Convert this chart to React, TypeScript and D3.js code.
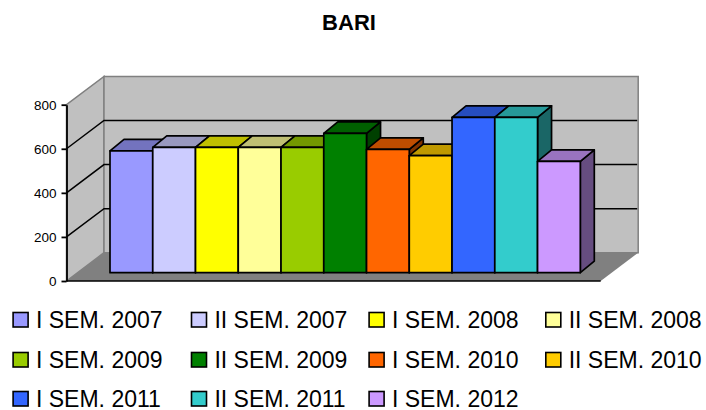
import React, { useEffect, useRef } from 'react';
import * as d3 from 'd3';

const categories = [
  'I SEM. 2007', 'II SEM. 2007', 'I SEM. 2008', 'II SEM. 2008',
  'I SEM. 2009', 'II SEM. 2009', 'I SEM. 2010', 'II SEM. 2010',
  'I SEM. 2011', 'II SEM. 2011', 'I SEM. 2012',
];
const values = [553, 569, 569, 569, 569, 632, 560, 531, 705, 705, 505];
const colors = [
  '#9999ff', '#ccccff', '#ffff00', '#ffff99', '#99cc00', '#008000',
  '#ff6600', '#ffcc00', '#3366ff', '#33cccc', '#cc99ff',
];
const ticks = [0, 200, 400, 600, 800];

const shade = (c: string, k: number) => {
  const r = d3.rgb(c);
  return d3.rgb(r.r * k, r.g * k, r.b * k).formatHex();
};

export default function App() {
  const svgRef = useRef<SVGSVGElement>(null);

  useEffect(() => {
    const svg = d3.select(svgRef.current);
    svg.selectAll('*').remove();
    const font = 'Liberation Sans, Arial, sans-serif';

    // front plane of the box, the depth goes up and to the right
    const x0 = 66.5, x1 = 600.7;
    const dx = 37.5, dy = 28.3;
    const y = d3.scaleLinear().domain([0, 800]).range([281, 104.7]);
    const band = d3.scaleBand().domain(categories).range([110, 580.3]);

    // bars sit between these two depths
    const barDx = 14, barDy = 11.5;
    const base = 272.7;
    const barY = (v: number) => base - (y(0) - y(v));

    svg.append('text')
      .attr('x', 349).attr('y', 29.5)
      .attr('text-anchor', 'middle')
      .style('font', `bold 22px ${font}`)
      .text('BARI');

    const poly = (pts: number[][]) => d3.line()(pts as [number, number][]) + 'Z';

    // walls and floor
    svg.append('path')
      .attr('d', poly([[x0, y(800)], [x0 + dx, y(800) - dy], [x0 + dx, y(0) - dy], [x0, y(0)]]))
      .attr('fill', '#c0c0c0').attr('stroke', '#808080').attr('stroke-width', 1.5);
    svg.append('path')
      .attr('d', poly([[x0 + dx, y(800) - dy], [x1 + dx, y(800) - dy], [x1 + dx, y(0) - dy], [x0 + dx, y(0) - dy]]))
      .attr('fill', '#c0c0c0').attr('stroke', '#808080').attr('stroke-width', 1.5);
    svg.append('path')
      .attr('d', poly([[x0, y(0)], [x0 + dx, y(0) - dy], [x1 + dx, y(0) - dy], [x1, y(0)]]))
      .attr('fill', '#808080').attr('stroke', 'none');

    // gridlines
    svg.selectAll('.grid')
      .data(ticks.filter(t => t > 0 && t < 800))
      .join('path')
      .attr('class', 'grid')
      .attr('d', t => d3.line()([[x0, y(t)], [x0 + dx, y(t) - dy], [x1 + dx - 1, y(t) - dy]]))
      .attr('fill', 'none').attr('stroke', 'black').attr('stroke-width', 1.5);

    svg.append('line')
      .attr('x1', x0).attr('x2', x1).attr('y1', y(0)).attr('y2', y(0))
      .attr('stroke', 'black').attr('stroke-width', 1.7);

    // axis
    const yAxis = d3.axisLeft(y).tickValues(ticks).tickSize(5).tickSizeOuter(0).tickPadding(5);
    const axisG = svg.append('g')
      .attr('transform', `translate(${x0}, 0)`)
      .call(yAxis);
    axisG.selectAll('line, path').attr('stroke', 'black').attr('stroke-width', 1.8);
    axisG.selectAll('text').style('font', `13.5px ${font}`).attr('fill', 'black');

    // bars, left to right so that each one hides the side of the last
    const bars = svg.selectAll('.bar')
      .data(categories)
      .join('g')
      .attr('class', 'bar')
      .attr('stroke', 'black')
      .attr('stroke-width', 1.7)
      .attr('stroke-linejoin', 'round');

    bars.append('path')
      .attr('d', (c, i) => {
        const r = band(c)! + band.bandwidth();
        const t = barY(values[i]);
        return poly([[r, t], [r + barDx, t - barDy], [r + barDx, base - barDy], [r, base]]);
      })
      .attr('fill', (c, i) => shade(colors[i], 0.5));
    bars.append('path')
      .attr('d', (c, i) => {
        const l = band(c)!;
        const r = l + band.bandwidth();
        const t = barY(values[i]);
        return poly([[l, t], [l + barDx, t - barDy], [r + barDx, t - barDy], [r, t]]);
      })
      .attr('fill', (c, i) => shade(colors[i], 0.75));
    bars.append('rect')
      .attr('x', c => band(c)!)
      .attr('y', (c, i) => barY(values[i]))
      .attr('width', band.bandwidth())
      .attr('height', (c, i) => base - barY(values[i]))
      .attr('fill', (c, i) => colors[i]);

    // legend, four columns
    const colX = [12.3, 190.7, 368.3, 545];
    const rowY = [328, 368, 407];
    const legend = svg.selectAll('.legend')
      .data(categories)
      .join('g')
      .attr('class', 'legend')
      .attr('transform', (c, i) => `translate(${colX[i % 4]}, ${rowY[Math.floor(i / 4)]})`);
    legend.append('rect')
      .attr('x', 0.8).attr('y', -15.5)
      .attr('width', 15).attr('height', 14.5)
      .attr('fill', (c, i) => colors[i])
      .attr('stroke', 'black').attr('stroke-width', 1.6);
    legend.append('text')
      .attr('x', 23.7)
      .style('font', `23px ${font}`)
      .attr('fill', 'black')
      .text(c => c);
  }, []);

  return (
    <svg ref={svgRef} width={706} height={410}
      style={{ position: 'absolute', top: 0, left: 0, background: 'white' }} />
  );
}
